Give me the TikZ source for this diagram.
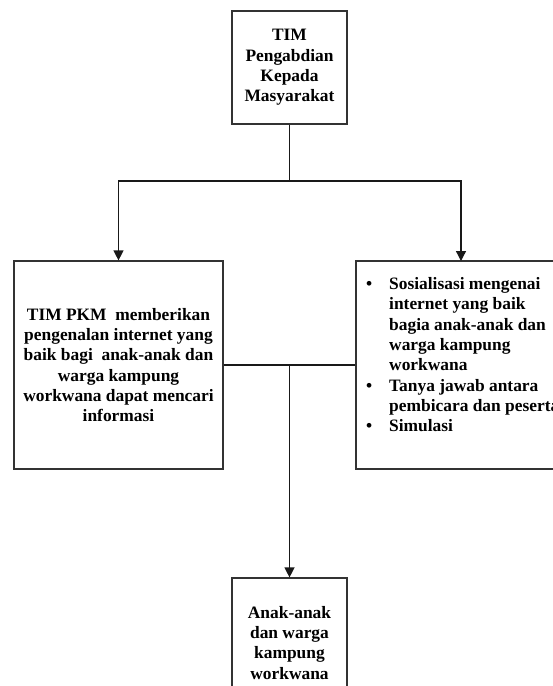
\documentclass[tikz,border=0pt]{standalone}
\usepackage{fontspec}
\setmainfont{Liberation Serif}
\usetikzlibrary{arrows.meta}
\begin{document}
\begin{tikzpicture}[x=1pt,y=-1pt,
  box/.style={draw=black!80, line width=1.2pt, inner sep=0pt},
  txt/.style={font=\fontsize{17.4}{20.3}\selectfont\bfseries, inner sep=0pt},
  conn/.style={draw=black!90, line width=1.3pt},
  arr/.style={conn, -{Triangle[width=10pt,length=10pt]}}]
\useasboundingbox (0,0) rectangle (553,686);
\fill[white] (0,0) rectangle (553,686);
\begin{scope}
\clip (0,0) rectangle (553,686);
% boxes
\node[box, txt, align=center, minimum width=115pt, minimum height=113pt] (top) at (289.5,67.5)
  {TIM\\Pengabdian\\Kepada\\Masyarakat};
\node[box, txt, align=center, minimum width=209pt, minimum height=208pt] (left) at (118.5,365)
  {TIM PKM\ \ memberikan\\pengenalan internet yang\\baik bagi\ \ anak-anak dan\\warga kampung\\workwana dapat mencari\\informasi};
\node[box, minimum width=250pt, minimum height=208pt] (right) at (481,365) {};
\node[txt, align=left, anchor=north west] (rtext) at (389,277.3)
  {\llap{\textbullet\hspace{17pt}}Sosialisasi mengenai\\internet yang baik\\bagia anak-anak dan\\warga kampung\\workwana\\\llap{\textbullet\hspace{17pt}}Tanya jawab antara\\pembicara dan peserta\\\llap{\textbullet\hspace{17pt}}Simulasi};
\node[box, minimum width=115pt, minimum height=150pt] (bot) at (289.5,653) {};
\node[txt, align=center, anchor=north] (btext) at (289.5,606)
  {Anak-anak\\dan warga\\kampung\\workwana};
% connectors
\coordinate (j1) at (289.5,181);
\coordinate (rin) at (461,261);
\coordinate (j2) at (289.5,365);
\draw[conn] (top.south) -- (j1);
\draw[arr] (j1) -| (left.north);
\draw[arr] (j1) -| (rin);
\draw[conn] (left.east) -- (right.west);
\draw[arr] (j2) -- (bot.north);
\end{scope}
\end{tikzpicture}
\end{document}
